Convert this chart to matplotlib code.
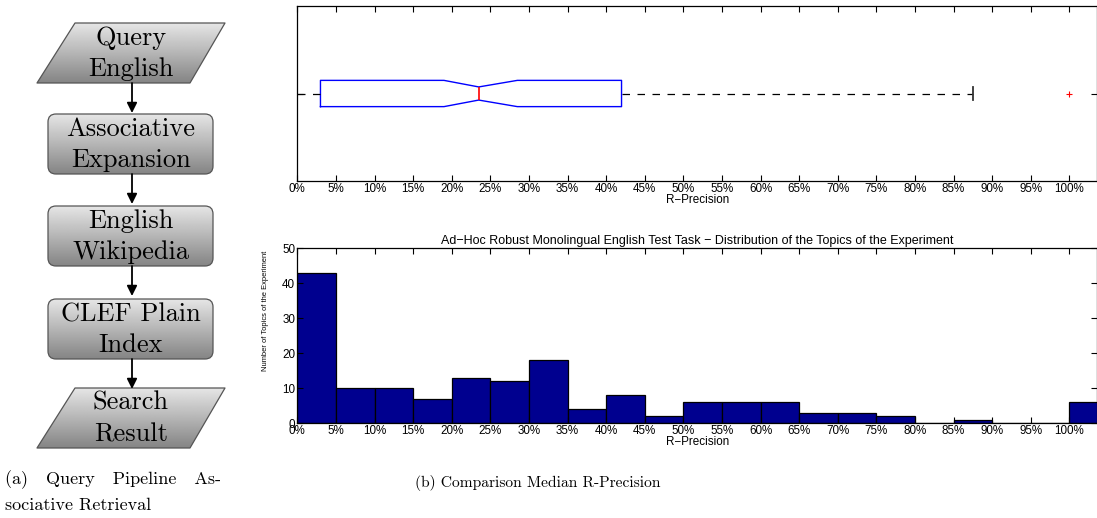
import matplotlib
matplotlib.use("Agg")
import matplotlib.pyplot as plt
import numpy as np
from matplotlib.patches import FancyBboxPatch, Polygon, FancyArrowPatch
from matplotlib.ticker import FuncFormatter

# Boxplot summary of R-Precision
box_med = 0.235
box_q1 = 0.03
box_q3 = 0.42
box_whislo = 0.0
box_whishi = 0.875
box_ci = (0.19, 0.285)
box_fliers = [1.00]

# Histogram of topics per R-Precision bin (5% bins)
bin_left = [0.00, 0.05, 0.10, 0.15, 0.20, 0.25, 0.30, 0.35, 0.40, 0.45, 0.50,
            0.55, 0.60, 0.65, 0.70, 0.75, 0.80, 0.85, 0.90, 0.95, 1.00]
topic_counts = [43, 10, 10, 7, 13, 12, 18, 4, 8, 2, 6,
                6, 6, 3, 3, 2, 0, 1, 0, 0, 6]
bin_width = 0.05

# Flowchart steps
steps = [("Query", "English"), ("Associative", "Expansion"),
         ("English", "Wikipedia"), ("CLEF Plain", "Index"),
         ("Search", "Result")]
step_kind = ["io", "proc", "proc", "proc", "io"]

W, H = 1097, 518
fig = plt.figure(figsize=(W / 100, H / 100), dpi=100)

sans = ["Liberation Sans", "DejaVu Sans"]
serif = "cmr10"
tick_fs = 8.4
pct = FuncFormatter(lambda v, p: "%d%%" % round(v * 100))
xticks = np.arange(0, 1.0001, 0.05)
x_max = (W - 297.3) / 772.0


def pix_axes(l, t, r, b):
    return fig.add_axes([l / W, 1 - b / H, (r - l) / W, (b - t) / H])


def style_axes(ax):
    ax.set_xlim(0, x_max)
    ax.set_xticks(xticks)
    ax.xaxis.set_major_formatter(pct)
    ax.tick_params(direction="in", top=True, right=True, length=4,
                   width=0.8, labelsize=tick_fs, pad=1.5)
    for lab in ax.get_xticklabels() + ax.get_yticklabels():
        lab.set_family(sans)
    for s in ax.spines.values():
        s.set_linewidth(0.9)


# ---- box plot ----
axb = pix_axes(297.3, 6, W, 181)
stats = [dict(med=box_med, q1=box_q1, q3=box_q3, whislo=box_whislo,
              whishi=box_whishi, fliers=box_fliers,
              cilo=box_ci[0], cihi=box_ci[1])]
axb.bxp(stats, positions=[1], widths=0.15, orientation="horizontal",
        shownotches=True, showfliers=True,
        boxprops=dict(color="#0000ff", linewidth=1),
        medianprops=dict(color="#ff0000", linewidth=1.2),
        whiskerprops=dict(color="black", linestyle=(0, (6, 6)), linewidth=0.9),
        capprops=dict(color="#333333", linewidth=1.3),
        flierprops=dict(marker="+", markeredgecolor="#ff0000",
                        markersize=5, markeredgewidth=0.8))
axb.set_ylim(0.5, 1.5)
axb.set_yticks([1])
axb.set_yticklabels([])
style_axes(axb)
axb.set_xlabel("R−Precision", fontsize=tick_fs, family=sans, labelpad=-1)

# ---- histogram ----
axh = pix_axes(297.3, 248.3, W, 423.3)
axh.bar(bin_left, topic_counts, width=bin_width, align="edge",
        color="#00008f", edgecolor="black", linewidth=0.9)
axh.set_ylim(0, 50)
axh.set_yticks([0, 10, 20, 30, 40, 50])
style_axes(axh)
axh.set_xlabel("R−Precision", fontsize=tick_fs, family=sans, labelpad=-1)
axh.set_ylabel("Number of Topics of the Experiment", fontsize=5.4,
               family=sans, labelpad=6)
axh.yaxis.set_label_coords(-0.036, 0.645)
axh.set_title("Ad−Hoc Robust Monolingual English Test Task − Distribution "
              "of the Topics of the Experiment", fontsize=9.0, family=sans,
              pad=3)

# ---- flowchart and captions (pixel coordinates) ----
fa = fig.add_axes([0, 0, 1, 1], zorder=-1)
fa.set_xlim(0, W)
fa.set_ylim(H, 0)
fa.axis("off")

tops = [23, 114, 206, 299, 388]
hgt = 60
grad = np.linspace(0.9, 0.52, 100).reshape(-1, 1)

for (l1, l2), kind, top in zip(steps, step_kind, tops):
    bot = top + hgt
    if kind == "io":
        verts = [(37, bot), (75, top), (225, top), (190, bot)]
        patch = Polygon(verts, closed=True, facecolor="none",
                        edgecolor="#555555", linewidth=0.9,
                        joinstyle="round")
        ext = (37, 225, bot, top)
    else:
        patch = FancyBboxPatch((48, top), 165, hgt,
                               boxstyle="round,pad=0,rounding_size=8",
                               facecolor="none", edgecolor="#555555",
                               linewidth=0.9)
        ext = (48, 213, bot, top)
    im = fa.imshow(grad, cmap="gray", vmin=0, vmax=1, aspect="auto",
                   extent=ext, zorder=1)
    fa.add_patch(patch)
    patch.set_zorder(2)
    im.set_clip_path(patch)
    fa.text(131, top + 22, l1, family=serif, fontsize=19,
            ha="center", va="baseline", zorder=3)
    fa.text(131, top + 53, l2, family=serif, fontsize=19,
            ha="center", va="baseline", zorder=3)

for top in tops[:-1]:
    fa.add_patch(FancyArrowPatch((132, top + hgt), (132, top + hgt + 30),
                                 arrowstyle="-|>,head_length=6,head_width=3",
                                 color="black", linewidth=1.3,
                                 shrinkA=0, shrinkB=0, zorder=4))

fa.text(5, 484, "(a)   Query   Pipeline   As-", family=serif, fontsize=13,
        ha="left", va="baseline")
fa.text(5, 510, "sociative Retrieval", family=serif, fontsize=13,
        ha="left", va="baseline")
fa.text(538, 487, "(b) Comparison Median R-Precision", family=serif,
        fontsize=11.2, ha="center", va="baseline")

fig.savefig("out.png", dpi=100)
